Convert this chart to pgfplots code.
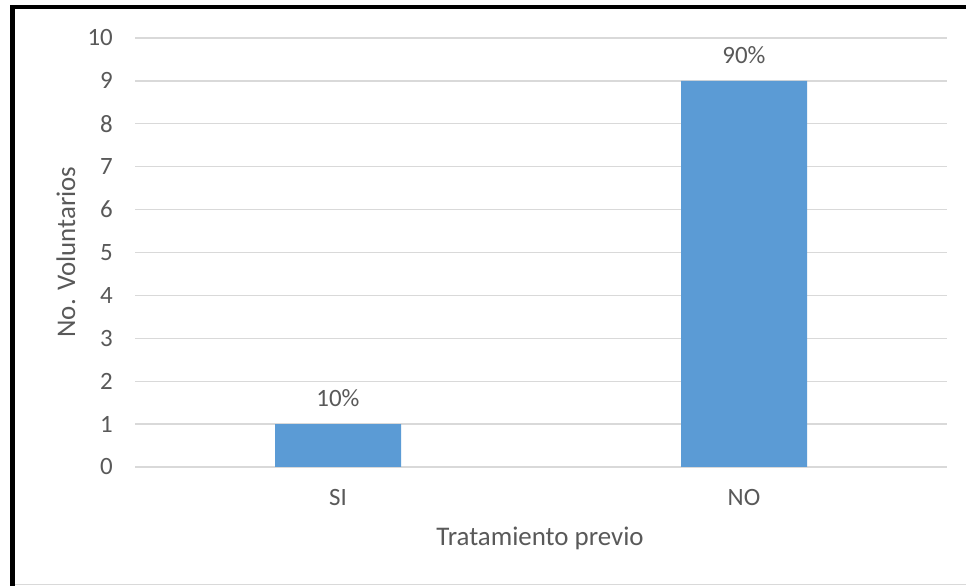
\documentclass[border=0pt]{standalone}
\usepackage{pgfplots}
\pgfplotsset{compat=1.18}
\usepackage{fontspec}
\setmainfont{Carlito}
\definecolor{txt}{HTML}{595959}
\definecolor{gridc}{HTML}{D9D9D9}
\definecolor{barc}{HTML}{5B9BD5}
\begin{document}
\begin{tikzpicture}
\path[use as bounding box] (0bp,0bp) rectangle (966bp,586bp);
\fill[white] (0bp,0bp) rectangle (966bp,586bp);
\draw[gridc, line width=1.2bp] (14bp,1.5bp) -- (966bp,1.5bp);
\draw[black, line width=4.5bp] (12.5bp,0bp) -- (12.5bp,579bp) -- (966bp,579bp);
\begin{axis}[
  at={(135bp,119bp)}, anchor=south west,
  scale only axis, width=812bp, height=429bp,
  xmin=-0.5, xmax=1.5, ymin=0, ymax=10,
  xtick={0,1}, xticklabels={SI,NO},
  ytick={0,1,...,10},
  axis lines*=left,
  axis line style={draw=none},
  xmajorgrids=false, ymajorgrids=true,
  grid style={draw=gridc, line width=1.3bp},
  major tick length=0pt,
  tick label style={font=\fontsize{25}{28}\selectfont, text=txt, inner sep=0pt},
  /pgf/number format/assume math mode=true,
  yticklabel style={anchor=east, xshift=-22bp},
  xticklabel style={anchor=north, yshift=-22bp},
  ybar, bar width=126bp,
  nodes near coords, point meta=explicit symbolic,
  nodes near coords style={font=\fontsize{25}{28}\selectfont, text=txt, inner sep=0pt, anchor=south, yshift=17bp},
  clip=false,
]
\addplot[fill=barc, draw=none] coordinates {(0,1) [10\%] (1,9) [90\%]};
\end{axis}
\node[rotate=90, text=txt, font=\fontsize{27}{30}\selectfont] at (66bp,334bp) {No. Voluntarios};
\node[text=txt, font=\fontsize{27}{30}\selectfont] at (540bp,48bp) {Tratamiento previo};
\end{tikzpicture}
\end{document}
